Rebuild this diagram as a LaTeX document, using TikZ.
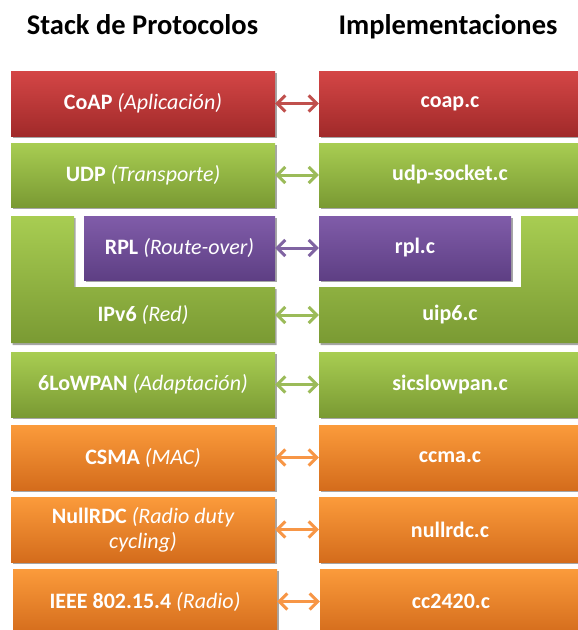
\documentclass[tikz,border=0pt]{standalone}
\usepackage{fontspec}
\setmainfont{Carlito}
\usetikzlibrary{arrows.meta,shadows}

% layer colours: shading top / bottom, and connector colour
\definecolor{redT}{HTML}{D44646}
\definecolor{redB}{HTML}{A12A2A}
\definecolor{redL}{HTML}{C0504D}
\definecolor{grnT}{HTML}{A8CD52}
\definecolor{grnB}{HTML}{7A9A33}
\definecolor{grnL}{HTML}{9BBB59}
\definecolor{purT}{HTML}{805CA9}
\definecolor{purB}{HTML}{5E3F84}
\definecolor{purL}{HTML}{8064A2}
\definecolor{orgT}{HTML}{FB9B3B}
\definecolor{orgB}{HTML}{D46C1C}
\definecolor{orgL}{HTML}{F79646}

\tikzset{
  title/.style={font=\fontsize{28.5}{32}\selectfont\bfseries, text=black, inner sep=0pt, anchor=base},
  shade/.style={drop shadow={shadow xshift=1.5pt, shadow yshift=-2pt, opacity=0.35, fill=black}},
  caption/.style={rectangle, inner sep=0pt, text=white, align=center,
    font=\fontsize{22}{25}\selectfont},
  layer/.style={caption, shade},
  redbox/.style={layer, top color=redT, bottom color=redB},
  grnbox/.style={layer, top color=grnT, bottom color=grnB},
  purbox/.style={layer, top color=purT, bottom color=purB},
  orgbox/.style={layer, top color=orgT, bottom color=orgB},
  lbox/.style={minimum width=264pt, minimum height=65pt},
  rbox/.style={minimum width=262pt, minimum height=65pt},
  link/.style={line width=3pt, {Straight Barb[length=8pt,width=16pt]}-{Straight Barb[length=8pt,width=16pt]}},
}
\newcommand{\lyr}[2]{{\bfseries #1} {\itshape #2}}

\begin{document}
\begin{tikzpicture}[x=1pt,y=-1pt]
\useasboundingbox (0,0) rectangle (578,630);
\clip (0,0) rectangle (578,630);

% column headings
\node[title] (hstack) at (142.5,34) {Stack de Protocolos};
\node[title] (himpl) at (448,34) {Implementaciones};

% L-shaped IPv6 layers behind the RPL boxes
\path[shade, top color=grnT, bottom color=grnB]
  (11,216) -- (74,216) -- (74,287) -- (275,287) -- (275,343) -- (11,343) -- cycle;
\path[shade, top color=grnT, bottom color=grnB]
  (521,216) -- (600,216) -- (600,343) -- (319,343) -- (319,287) -- (521,287) -- cycle;

% protocol stack
\node[redbox, lbox] (coap) at (143,103.5) {\lyr{CoAP}{(Aplicación)}};
\node[grnbox, lbox, minimum height=64pt] (udp) at (143,175) {\lyr{UDP}{(Transporte)}};
\node[purbox, minimum width=191pt, minimum height=64pt] (rpl) at (179.5,248) {\lyr{RPL}{(Route-over)}};
\node[caption, minimum width=264pt, minimum height=56pt] (ipv6) at (143,315) {\lyr{IPv6}{(Red)}};
\node[grnbox, lbox] (lowpan) at (143,384.5) {\lyr{6LoWPAN}{(Adaptación)}};
\node[orgbox, lbox] (csma) at (143,457.5) {\lyr{CSMA}{(MAC)}};
\node[orgbox, lbox] (nullrdc) at (143,529.5) {\lyr{NullRDC}{(Radio duty}\\{\itshape cycling)}};
\node[orgbox, lbox] (ieee) at (145,601.5) {\lyr{IEEE 802.15.4}{(Radio)}};

% implementations
\node[redbox, rbox] (coapc) at (450,103.5) {\bfseries coap.c};
\node[grnbox, rbox, minimum height=64pt] (udpc) at (450,175) {\bfseries udp-socket.c};
\node[purbox, minimum width=192pt, minimum height=64pt] (rplc) at (415,248) {\bfseries rpl.c};
\node[caption, minimum width=262pt, minimum height=56pt] (uipc) at (450,315) {\bfseries uip6.c};
\node[grnbox, rbox] (lowpanc) at (450,384.5) {\bfseries sicslowpan.c};
\node[orgbox, rbox] (csmac) at (450,457.5) {\bfseries ccma.c};
\node[orgbox, rbox] (nullrdcc) at (450,529.5) {\bfseries nullrdc.c};
\node[orgbox, rbox] (ieeec) at (451,601.5) {\bfseries cc2420.c};

% links between each layer and its source file
\draw[link, redL] (coap.east) -- (coapc.west);
\draw[link, grnL] (udp.east) -- (udpc.west);
\draw[link, purL] (rpl.east) -- (rplc.west);
\draw[link, grnL] (ipv6.east) -- (uipc.west);
\draw[link, grnL] (lowpan.east) -- (lowpanc.west);
\draw[link, orgL] (csma.east) -- (csmac.west);
\draw[link, orgL] (nullrdc.east) -- (nullrdcc.west);
\draw[link, orgL] (ieee.east) -- (ieeec.west);
\end{tikzpicture}
\end{document}
